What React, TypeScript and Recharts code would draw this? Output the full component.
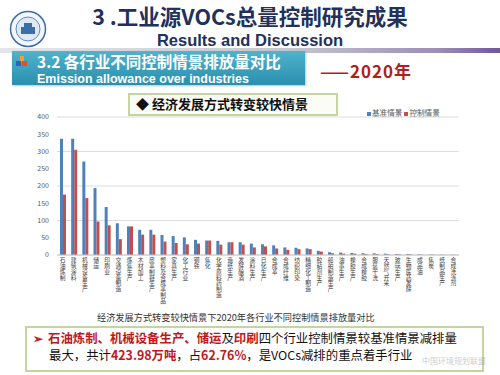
import { BarChart, Bar, XAxis, YAxis, CartesianGrid } from 'recharts';

const categories = [
  '石油炼制', '建筑涂料', '机械设备生产', '储运', '印刷业', '交通设备制造', '炼焦生产', '木材加工',
  '皮革制鞋生产', '塑料及合成革制品', '家具生产', '化工行业', '钢铁', '焦化', '化学原料药制造', '造纸生产',
  '发酵酿酒', '涂料生产', '日化生产', '合成革', '合成纤维', '纺织印染', '精细化工制造', '胶粘剂生产',
  '船舶制造生产', '油墨生产', '橡胶生产', '合成橡胶', '服装干洗', '天然气开采', '玻璃生产', '生物医药发酵',
  '成品油', '焦炭', '纸制品生产', '合成洗涤剂',
];
const baseValues = [
  337, 337, 271, 194, 139, 92, 83, 73, 73, 58, 55, 51, 44, 42, 41, 37, 37, 33,
  31, 28, 22, 21, 19, 12, 8, 7, 6, 5, 5, 4, 3, 3, 2, 1, 1, 1,
];
const controlValues = [
  175, 305, 165, 97, 86, 46, 83, 59, 59, 39, 35, 31, 33, 42, 30, 37, 30, 22,
  25, 19, 15, 17, 17, 10, 5, 4, 4, 3, 3, 2, 2, 2, 1, 1, 0.5, 0.5,
];
const yTicks = [0, 50, 100, 150, 200, 250, 300, 350, 400];

const data = categories.map((name, i) => ({ name, base: baseValues[i], control: controlValues[i] }));

const FONT = '"Noto Sans CJK SC", "Noto Sans", sans-serif';
const LATIN = '"Liberation Sans", Arial, sans-serif';
const RED = '#c0171c';

// vertical CJK label, top to bottom
const VerticalTick = (props: any) => {
  const { x, y, payload } = props;
  return (
    <text
      x={x}
      y={y - 6}
      fontSize={5.8}
      fill="#444"
      fontFamily={FONT}
      style={{ writingMode: 'vertical-rl' as any }}
    >
      {payload.value}
    </text>
  );
};

const abs = (style: any) => ({ position: 'absolute' as const, ...style });

export default function App() {
  return (
    <div style={{ position: 'absolute', left: 0, top: 0, width: 500, height: 375, background: '#fff', overflow: 'hidden', fontFamily: FONT }}>
      {/* logo */}
      <svg style={abs({ left: 9, top: 10 })} width={40} height={40}>
        <circle cx={19} cy={19} r={17.5} fill="#f4f7fb" stroke="#3a6ea8" strokeWidth={1.5} />
        <circle cx={19} cy={19} r={12} fill="#dfe9f5" stroke="#5b8cc2" strokeWidth={1} />
        <rect x={12} y={17} width={14} height={7} fill="#3a6ea8" />
        <rect x={15} y={13} width={8} height={4} fill="#3a6ea8" />
      </svg>
      <div style={abs({ left: 0, width: 500, top: 1, textAlign: 'center', fontSize: 21.5, fontWeight: 700, color: '#22305a', lineHeight: '30px' })}>
        3 .工业源VOCs总量控制研究成果
      </div>
      <div style={abs({ left: 0, width: 500, top: 31.4, textAlign: 'center', fontSize: 16.5, fontWeight: 700, color: '#22305a', lineHeight: '18.5px', fontFamily: LATIN })}>
        Results and Discussion
      </div>
      <div style={abs({ left: 0, top: 48, width: 500, height: 5, background: 'linear-gradient(to right, #e6e6ea, #c4c4cc 60%, #9a8cb8 88%, #6f58a0)' })} />
      {/* teal banner */}
      <div style={abs({ left: 12, top: 51, width: 293, height: 34, background: 'linear-gradient(to bottom, #4fb3cc, #2a8fae)', boxShadow: '1px 1px 2px rgba(0,0,0,0.25)' })} />
      <svg style={abs({ left: 16, top: 56 })} width={12} height={12}>
        <rect x={4} y={0} width={4} height={6} fill="#f0a030" />
        <rect x={0} y={5} width={5} height={5} fill="#3060c0" />
        <rect x={6} y={5} width={5} height={5} fill="#e05030" />
      </svg>
      <div style={abs({ left: 37, top: 50, fontSize: 15.5, fontWeight: 700, color: '#fff', lineHeight: '22px', whiteSpace: 'nowrap' })}>
        3.2 各行业不同控制情景排放量对比
      </div>
      <div style={abs({ left: 37, top: 72.4, fontSize: 12.5, fontWeight: 700, color: '#fff', lineHeight: '14px', whiteSpace: 'nowrap', fontFamily: LATIN })}>
        Emission allowance over industries
      </div>
      <div style={abs({ left: 320, top: 60, fontSize: 17, fontWeight: 700, color: '#b01e1e', lineHeight: '22px', whiteSpace: 'nowrap', letterSpacing: 1 })}>
        ——2020年
      </div>
      {/* scenario box */}
      <div style={abs({ left: 128, top: 93, width: 206, height: 19, border: '2px solid #c3d69b', background: '#fafcf5' })} />
      <div style={abs({ left: 136, top: 94, fontSize: 13, fontWeight: 700, color: '#111', lineHeight: '20px', whiteSpace: 'nowrap' })}>
        ◆ 经济发展方式转变较快情景
      </div>
      {/* legend */}
      <div style={abs({ left: 367, top: 108, fontSize: 7.6, color: '#595959', lineHeight: '10px', whiteSpace: 'nowrap' })}>
        <span style={{ display: 'inline-block', width: 4, height: 4, background: '#4f81bd', marginRight: 1 }} />基准情景
        <span style={{ display: 'inline-block', width: 4, height: 4, background: '#c0504d', marginLeft: 2, marginRight: 1 }} />控制情景
      </div>
      <div style={abs({ left: 0, top: 0 })}>
        <BarChart width={500} height={320} data={data} margin={{ top: 117, right: 41, left: 0, bottom: 5 }} barGap={0} barSize={3}>
          <CartesianGrid vertical={false} stroke="#dcdcdc" />
          <XAxis dataKey="name" interval={0} tickLine={false} axisLine={{ stroke: '#c8c8c8' }} height={60} tick={<VerticalTick />} />
          <YAxis domain={[0, 400]} ticks={yTicks} width={57} axisLine={false} tickLine={false} tick={{ fontSize: 7, fill: '#595959', fontFamily: FONT }} />
          <Bar dataKey="base" fill="#4f81bd" isAnimationActive={false} />
          <Bar dataKey="control" fill="#c0504d" isAnimationActive={false} />
        </BarChart>
      </div>
      <div style={abs({ left: 97, top: 311, fontSize: 9.2, color: '#333', lineHeight: '12px', whiteSpace: 'nowrap' })}>
        经济发展方式转变较快情景下2020年各行业不同控制情景排放量对比
      </div>
      {/* summary box */}
      <div style={abs({ left: 25, top: 326, width: 455, height: 42, border: '2px solid #c3d69b', background: '#fff' })} />
      <div style={abs({ left: 33, top: 330, fontSize: 12.4, color: '#111', lineHeight: '17px', whiteSpace: 'nowrap' })}>
        <span style={{ color: RED, fontWeight: 700, marginRight: 5 }}>➢</span>
        <span style={{ color: RED, fontWeight: 700 }}>石油炼制、机械设备生产、储运</span>及<span style={{ color: RED, fontWeight: 700 }}>印刷</span>四个行业控制情景较基准情景减排量
      </div>
      <div style={abs({ left: 49, top: 347, fontSize: 12.4, color: '#111', lineHeight: '17px', whiteSpace: 'nowrap' })}>
        最大，共计<span style={{ color: RED, fontWeight: 700 }}>423.98万吨</span>，占<span style={{ color: RED, fontWeight: 700 }}>62.76%</span>，是VOCs减排的重点着手行业
      </div>
      <div style={abs({ left: 422, top: 356, fontSize: 8, color: 'rgba(150,150,160,0.5)', lineHeight: '10px', whiteSpace: 'nowrap' })}>
        中国环境规划联盟
      </div>
    </div>
  );
}
